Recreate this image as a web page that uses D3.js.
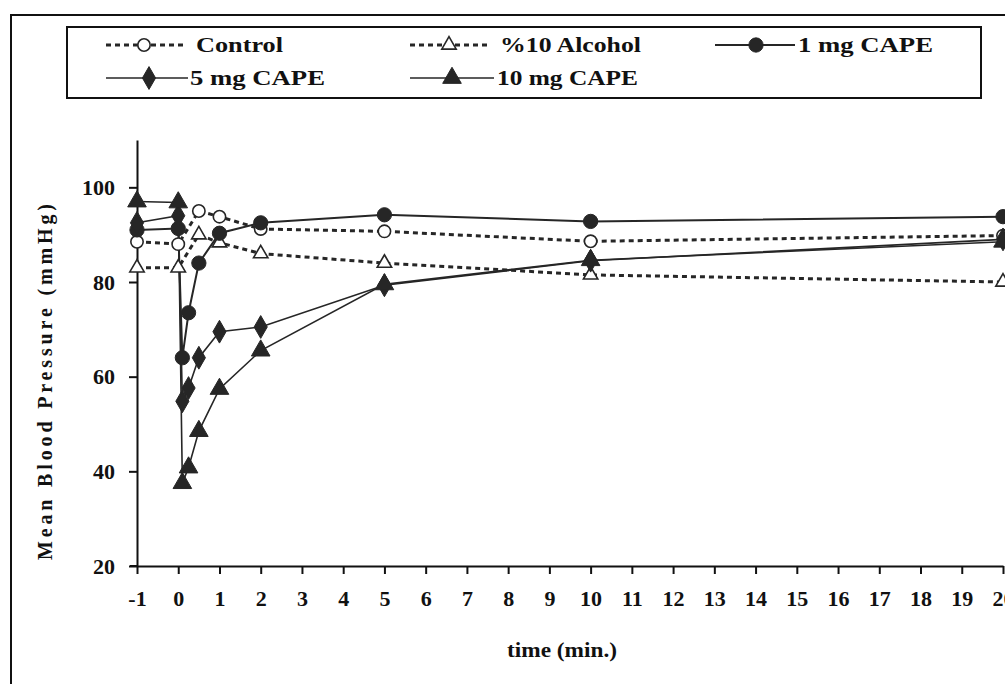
<!DOCTYPE html>
<html>
<head>
<meta charset="utf-8">
<script src="https://cdn.jsdelivr.net/npm/d3@7"></script>
<style>
  html, body { margin: 0; padding: 0; background: #fff; }
  text { font-family: "Liberation Serif", "Times New Roman", serif; font-weight: bold; fill: #111; }
</style>
</head>
<body>
<svg id="chart" width="1005" height="684"></svg>
<script>
// ---- data ----
const seriesNames = ["Control", "%10 Alcohol", "1 mg CAPE", "5 mg CAPE", "10 mg CAPE"];
const timesVehicle = [-1, 0, 0.5, 1, 2, 5, 10, 20];
const timesCape = [-1, 0, 0.1, 0.25, 0.5, 1, 2, 5, 10, 20];
const controlValues = [88.5, 88, 95, 93.8, 91.2, 90.7, 88.6, 89.8];
const alcoholValues = [83, 83, 90, 88.3, 86, 84, 81.5, 80];
const cape1Values = [91, 91.3, 64, 73.5, 84, 90.3, 92.5, 94.2, 92.8, 93.8];
const cape5Values = [92.5, 94, 54.8, 57.6, 64, 69.5, 70.5, 79.3, 84.5, 89];
const cape10Values = [97, 96.8, 37.5, 40.8, 48.5, 57.4, 65.5, 79.5, 84.6, 88.5];
const xTicks = d3.range(-1, 21);
const yTicks = [20, 40, 60, 80, 100];
const xTitle = "time (min.)";
const yTitle = "Mean Blood Pressure (mmHg)";

const series = [
  { name: seriesNames[0], t: timesVehicle, v: controlValues, dash: "5,4", width: 3, sym: d3.symbolCircle, size: 120, open: true },
  { name: seriesNames[1], t: timesVehicle, v: alcoholValues, dash: "5,4", width: 3, sym: d3.symbolTriangle, size: 90, open: true },
  { name: seriesNames[2], t: timesCape, v: cape1Values, dash: null, width: 2, sym: d3.symbolCircle, size: 160, open: false },
  { name: seriesNames[3], t: timesCape, v: cape5Values, dash: null, width: 1.6, sym: d3.symbolDiamond, size: 150, open: false },
  { name: seriesNames[4], t: timesCape, v: cape10Values, dash: null, width: 1.6, sym: d3.symbolTriangle, size: 150, open: false }
];

const ink = "#262626";
const svg = d3.select("#chart");

// outer frame
svg.append("rect").attr("x", 11).attr("y", 15).attr("width", 1100).attr("height", 800)
  .attr("fill", "none").attr("stroke", "#111").attr("stroke-width", 2);

const x = d3.scaleLinear().domain([-1, 20]).range([137, 1003]);
const y = d3.scaleLinear().domain([20, 110]).range([566, 140]);

// axes
const xAxis = svg.append("g").attr("transform", `translate(0,${y(20)})`)
  .call(d3.axisBottom(x).tickValues(xTicks).tickSize(8).tickSizeOuter(0).tickPadding(16).tickFormat(d => String(d)));
const yAxis = svg.append("g").attr("transform", `translate(${x(-1)},0)`)
  .call(d3.axisLeft(y).tickValues(yTicks).tickSize(8).tickSizeOuter(0).tickPadding(14).tickFormat(d => String(d)));
[xAxis, yAxis].forEach(g => {
  g.select(".domain").attr("stroke", "#111").attr("stroke-width", 2);
  g.selectAll(".tick line").attr("stroke", "#111").attr("stroke-width", 2);
  g.selectAll(".tick text").attr("font-family", "Liberation Serif, serif").attr("font-weight", "bold")
    .attr("font-size", 22).attr("fill", "#111");
});
// extend x-axis line slightly left like reference
svg.append("line").attr("x1", x(-1) - 7).attr("x2", x(-1)).attr("y1", y(20)).attr("y2", y(20))
  .attr("stroke", "#111").attr("stroke-width", 2);

// titles
svg.append("text").attr("x", 562).attr("y", 657).attr("text-anchor", "middle")
  .attr("font-size", 21).attr("textLength", 110).attr("lengthAdjust", "spacingAndGlyphs").text(xTitle);
svg.append("text").attr("transform", `translate(52,382) rotate(-90)`).attr("text-anchor", "middle")
  .attr("font-size", 20).attr("textLength", 356).attr("lengthAdjust", "spacing").text(yTitle);

// lines and markers
const line = d3.line().x(d => x(d[0])).y(d => y(d[1]));
series.forEach(s => {
  const pts = s.t.map((t, i) => [t, s.v[i]]);
  s.pts = pts;
  svg.append("path").datum(pts).attr("d", line).attr("fill", "none")
    .attr("stroke", ink).attr("stroke-width", s.width)
    .attr("stroke-dasharray", s.dash);
});
series.forEach(s => {
  svg.append("g").selectAll("path").data(s.pts).join("path")
    .attr("transform", d => `translate(${x(d[0])},${y(d[1])})`)
    .attr("d", d3.symbol().type(s.sym).size(s.size))
    .attr("fill", s.open ? "#fff" : ink)
    .attr("stroke", ink).attr("stroke-width", s.open ? 1.6 : 1);
});

// legend
svg.append("rect").attr("x", 67).attr("y", 27).attr("width", 914).attr("height", 71)
  .attr("fill", "#fff").attr("stroke", "#111").attr("stroke-width", 2);
const legendPos = [
  { x0: 106, x1: 186, sx: 144, tx: 196, ty: 45, tw: 87 },
  { x0: 410, x1: 490, sx: 449, tx: 500, ty: 45, tw: 141 },
  { x0: 715, x1: 795, sx: 756, tx: 798, ty: 45, tw: 135 },
  { x0: 106, x1: 188, sx: 149, tx: 190, ty: 78, tw: 135 },
  { x0: 410, x1: 494, sx: 452, tx: 497, ty: 78, tw: 141 }
];
series.forEach((s, i) => {
  const p = legendPos[i];
  const g = svg.append("g");
  g.append("line").attr("x1", p.x0).attr("x2", p.x1).attr("y1", p.ty).attr("y2", p.ty)
    .attr("stroke", ink).attr("stroke-width", s.width).attr("stroke-dasharray", s.dash);
  g.append("path").attr("transform", `translate(${p.sx},${p.ty})`)
    .attr("d", d3.symbol().type(s.sym).size(s.size))
    .attr("fill", s.open ? "#fff" : ink).attr("stroke", ink).attr("stroke-width", s.open ? 1.6 : 1);
  g.append("text").attr("x", p.tx).attr("y", p.ty + 7).attr("font-size", 21)
    .attr("textLength", p.tw).attr("lengthAdjust", "spacingAndGlyphs").text(s.name);
});
</script>
</body>
</html>
